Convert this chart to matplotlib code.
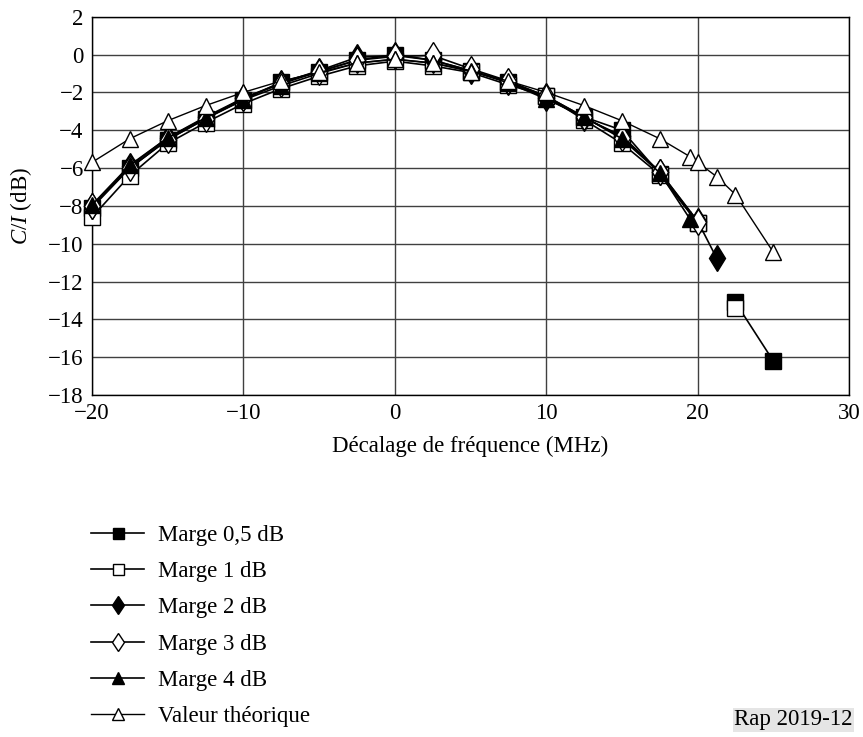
import numpy as np
import matplotlib
matplotlib.use("Agg")
import matplotlib.pyplot as plt

plt.rcParams['font.family'] = ['Liberation Serif', 'DejaVu Serif']
plt.rcParams['mathtext.fontset'] = 'custom'
plt.rcParams['mathtext.rm'] = 'Liberation Serif'
plt.rcParams['mathtext.it'] = 'Liberation Serif:italic'

# frequency offsets (MHz)
x_base = [-20, -17.5, -15, -12.5, -10, -7.5, -5, -2.5, 0, 2.5, 5, 7.5, 10, 12.5, 15, 17.5]

# C/I values (dB), nan = break in the line
x_m05 = x_base + [20, 21.25, 22.5, 25]
y_m05 = [-8.1, -6.0, -4.5, -3.4, -2.4, -1.45, -0.9, -0.3, 0.0, -0.3, -0.85, -1.45,
         -2.2, -3.3, -4.0, -6.3, -8.9, np.nan, -13.1, -16.2]

x_m1 = x_base + [20, 21.25, 22.5]
y_m1 = [-8.6, -6.4, -4.7, -3.6, -2.6, -1.8, -1.15, -0.6, -0.35, -0.6, -0.95, -1.6,
        -2.2, -3.45, -4.7, -6.35, -8.9, np.nan, -13.4]

x_m2 = x_base + [20, 21.25]
y_m2 = [-8.0, -5.9, -4.4, -3.3, -2.3, -1.5, -0.85, -0.15, -0.05, -0.3, -0.85, -1.45,
        -2.3, -3.35, -4.3, -6.2, -8.8, -10.75]

x_m3 = x_base + [20]
y_m3 = [-8.0, -6.0, -4.5, -3.4, -2.3, -1.55, -0.9, -0.3, -0.1, -0.05, -0.75, -1.4,
        -2.2, -3.3, -4.4, -6.2, -8.85]

x_m4 = x_base + [19.5]
y_m4 = [-7.95, -5.85, -4.4, -3.35, -2.4, -1.65, -1.0, -0.45, -0.25, -0.45, -0.85, -1.5,
        -2.35, -3.3, -4.45, -6.25, -8.7]

x_th = x_base + [19.5, 20, 21.25, 22.5, 25]
y_th = [-5.7, -4.45, -3.5, -2.7, -2.0, -1.4, -0.95, -0.45, -0.25, -0.45, -0.9, -1.4,
        -2.0, -2.7, -3.5, -4.45, -5.4, -5.7, -6.45, -7.4, -10.45]

fs = 16.5
fig = plt.figure(figsize=(8.63, 7.37), dpi=100)
ax = fig.add_axes([92/863, 1-395/737, (849-92)/863, (395-16.7)/737])

ax.plot(x_m05, y_m05, color='black', lw=1.2, marker='s', ms=11, mfc='black', mec='black',
        label='Marge 0,5 dB', zorder=3, clip_on=False)
ax.plot(x_m1, y_m1, color='black', lw=1.2, marker='s', ms=11, mfc='white', mec='black',
        label='Marge 1 dB', zorder=4, clip_on=False)
ax.plot(x_m2, y_m2, color='black', lw=1.2, marker='d', ms=13, mfc='black', mec='black',
        label='Marge 2 dB', zorder=5, clip_on=False)
ax.plot(x_m3, y_m3, color='black', lw=1.2, marker='d', ms=13, mfc='white', mec='black',
        label='Marge 3 dB', zorder=6, clip_on=False)
ax.plot(x_m4, y_m4, color='black', lw=1.2, marker='^', ms=12, mfc='black', mec='black',
        label='Marge 4 dB', zorder=7, clip_on=False)
ax.plot(x_th, y_th, color='black', lw=1.0, marker='^', ms=12, mfc='white', mec='black',
        label='Valeur théorique', zorder=8, clip_on=False)

ax.set_xlim(-20, 30)
ax.set_ylim(-18, 2)
ax.set_xticks(range(-20, 31, 10))
ax.set_yticks(range(-18, 3, 2))
ax.tick_params(length=0, labelsize=fs, pad=6)
ax.grid(True, color='#404040', lw=1)
ax.set_axisbelow(True)
for s in ax.spines.values():
    s.set_color('black')
    s.set_linewidth(1)

ax.set_xlabel('Décalage de fréquence (MHz)', fontsize=fs, labelpad=8)
ax.set_ylabel(r'$C/I$ (dB)', fontsize=fs, labelpad=10)

handles, labels = ax.get_legend_handles_labels()
fig.legend(handles, labels, loc='upper left', bbox_to_anchor=(0.095, 0.3),
           frameon=False, fontsize=fs, handlelength=2.3, handletextpad=0.6,
           labelspacing=0.66, markerscale=0.72, borderaxespad=0)

fig.text(0.988, 1-720/737, 'Rap 2019-12', fontsize=fs, ha='right', va='center',
         bbox=dict(facecolor='#e5e5e5', edgecolor='none', pad=1))

fig.savefig('out.png', dpi=100)
